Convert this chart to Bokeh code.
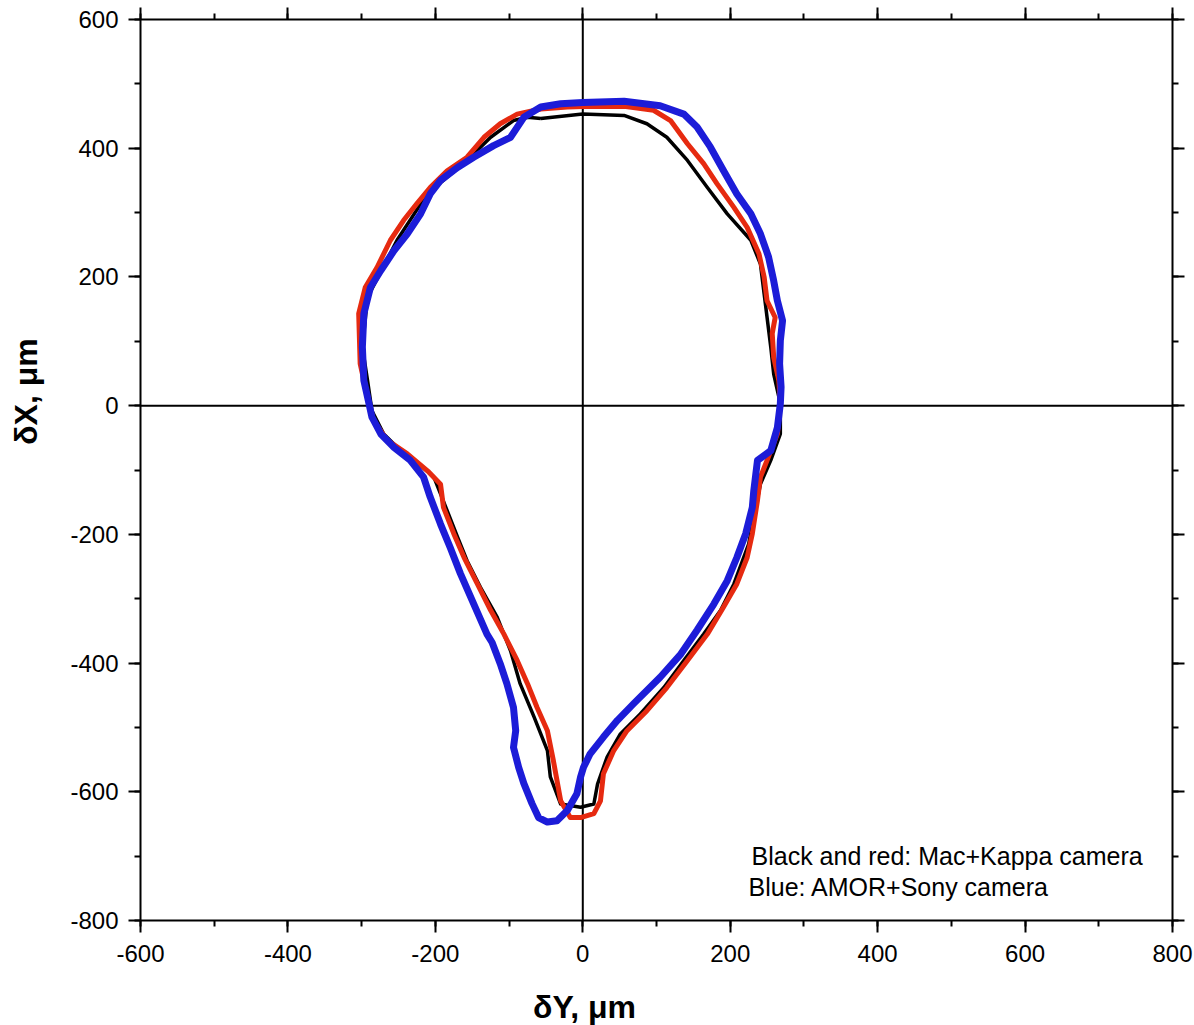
import math
from bokeh.plotting import figure
from bokeh.models import Range1d, LinearAxis, FixedTicker, Label, CustomLabelingPolicy
from bokeh.embed import file_html
from bokeh.resources import INLINE

# ---- data ----
blue_x = [0, 56, 105, 137, 155, 173, 191, 209, 228, 241, 252, 259, 264, 271, 268, 267, 269, 268, 264, 255,
          237, 232, 230, 221, 209, 196, 178, 155, 133, 105, 69, 47, 28, 10, 1, -3, -8, -21, -35, -48,
          -60, -69, -80, -87, -94, -91, -94, -103, -112, -123, -130, -148, -166, -180, -193, -207, -216, -234, -256, -274,
          -286, -290, -297, -299, -297, -288, -274, -256, -238, -220, -207, -193, -170, -148, -121, -98, -80, -57, -30]
blue_y = [471, 473, 466, 453, 433, 402, 365, 329, 298, 267, 231, 194, 163, 132, 101, 65, 29, 3, -34, -70,
          -85, -132, -158, -199, -236, -272, -308, -349, -386, -422, -463, -489, -515, -541, -562, -577, -603, -629, -645, -647,
          -640, -618, -587, -562, -531, -505, -469, -432, -401, -368, -355, -308, -261, -220, -184, -142, -111, -85, -65, -44,
          -18, 3, 39, 91, 143, 184, 210, 241, 267, 298, 329, 350, 370, 386, 404, 417, 448, 464, 469]

red_x = [0, 56, 96, 119, 142, 164, 182, 205, 223, 239, 246, 250, 261, 257, 259, 266, 268, 264, 250, 241,
         237, 230, 223, 209, 191, 169, 142, 114, 87, 60, 42, 28, 24, 15, -3, -17, -30, -40, -48, -62,
         -75, -89, -107, -125, -143, -161, -175, -189, -193, -209, -238, -265, -284, -290, -302, -304, -295, -279, -261, -243,
         -225, -207, -184, -157, -134, -112, -89, -57, -21]
red_y = [465, 465, 459, 443, 407, 376, 345, 308, 277, 236, 200, 163, 137, 112, 75, 39, 3, -44, -85, -111,
         -147, -199, -236, -277, -313, -355, -396, -438, -474, -505, -536, -572, -614, -634, -640, -640, -614, -551, -505, -469,
         -432, -396, -355, -318, -277, -236, -199, -158, -122, -103, -75, -54, -23, 3, 65, 143, 184, 215, 257, 288,
         314, 339, 365, 386, 417, 438, 453, 461, 464]

black_x = [-57, 0, 56, 87, 114, 142, 169, 196, 228, 241, 246, 255, 259, 268, 268, 255, 241, 232, 225, 205,
           187, 164, 137, 110, 78, 51, 33, 20, 15, -3, -30, -44, -48, -66, -85, -98, -116, -139, -157, -170,
           -184, -202, -225, -247, -270, -286, -292, -299, -292, -252, -211, -157, -125, -94, -75]
black_y = [446, 453, 451, 438, 417, 381, 339, 298, 257, 220, 174, 91, 49, 3, -44, -85, -122, -173, -215, -277,
           -318, -355, -396, -438, -479, -510, -546, -588, -619, -624, -619, -577, -536, -484, -432, -381, -329, -282, -241, -204,
           -163, -111, -88, -70, -44, -8, 39, 91, 168, 257, 329, 381, 417, 443, 448]

x_ticks = [-600, -400, -200, 0, 200, 400, 600, 800]
x_tick_labels = ["-600", "-400", "-200", "0", "200", "400", "600", "800"]
y_ticks = [-800, -600, -400, -200, 0, 200, 400, 600]
y_tick_labels = ["-800", "-600", "-400", "-200", "0", "200", "400", "600"]
x_minor = list(range(-600, 801, 100))
y_minor = list(range(-800, 601, 100))
X_MIN, X_MAX = -600, 800
Y_MIN, Y_MAX = -800, 600

x_title = "δY, μm"
y_title = "δX, μm"
note_lines = ["Black and red: Mac+Kappa camera", "Blue: AMOR+Sony camera"]

FONT = "Liberation Sans"

# ---- layout: the axis box sits at these pixel edges of a 1194x1025 canvas ----
W, H = 1194, 1025
BOX_L, BOX_R, BOX_T, BOX_B = 140, 1172, 19, 920
kx = (X_MAX - X_MIN) / (BOX_R - BOX_L)
ky = (Y_MAX - Y_MIN) / (BOX_B - BOX_T)
x_range = Range1d(X_MIN - BOX_L * kx, X_MAX + (W - BOX_R) * kx)
y_range = Range1d(Y_MIN - (H - BOX_B) * ky, Y_MAX + BOX_T * ky)


def px_to_x(px):
    return X_MIN + (px - BOX_L) * kx


def py_to_y(py):
    return Y_MAX - (py - BOX_T) * ky


p = figure(width=W, height=H, x_range=x_range, y_range=y_range,
           output_backend="svg", toolbar_location=None,
           min_border=0, min_border_left=0, min_border_right=0,
           min_border_top=0, min_border_bottom=0)
p.grid.visible = False
p.outline_line_color = None
p.background_fill_color = "white"
p.border_fill_color = "white"


def style_axis(ax, labels=True):
    ax.axis_line_width = 2
    ax.axis_line_color = "black"
    ax.major_tick_line_width = 2
    ax.minor_tick_line_width = 2
    ax.major_tick_out = 12
    ax.major_tick_in = 0
    ax.minor_tick_out = 6
    ax.minor_tick_in = 0
    ax.major_label_text_font = FONT
    ax.major_label_text_color = "black"
    if labels:
        ax.major_label_text_font_size = "24px"
    else:
        ax.major_label_text_font_size = "0px"
        ax.major_label_policy = CustomLabelingPolicy(
            code="for (const i of indices) { indices.unset(i) } return indices")
        ax.major_label_standoff = 0


xa = p.xaxis[0]
ya = p.yaxis[0]
xa.ticker = FixedTicker(ticks=x_ticks, minor_ticks=x_minor)
ya.ticker = FixedTicker(ticks=y_ticks, minor_ticks=y_minor)
xa.major_label_overrides = {t: s for t, s in zip(x_ticks, x_tick_labels)}
ya.major_label_overrides = {t: s for t, s in zip(y_ticks, y_tick_labels)}
style_axis(xa)
style_axis(ya)
xa.major_label_standoff = 12
ya.major_label_standoff = 10
xa.fixed_location = Y_MIN
xa.bounds = (X_MIN, X_MAX)
ya.fixed_location = X_MIN
ya.bounds = (Y_MIN, Y_MAX)

top = LinearAxis(ticker=FixedTicker(ticks=x_ticks, minor_ticks=x_minor),
                 fixed_location=Y_MAX, bounds=(X_MIN, X_MAX))
style_axis(top, labels=False)
p.add_layout(top, "above")
right = LinearAxis(ticker=FixedTicker(ticks=y_ticks, minor_ticks=y_minor),
                   fixed_location=X_MAX, bounds=(Y_MIN, Y_MAX))
style_axis(right, labels=False)
p.add_layout(right, "right")

# zero lines across the axis box
p.segment(x0=[X_MIN, 0], y0=[0, Y_MIN], x1=[X_MAX, 0], y1=[0, Y_MAX],
          line_color="black", line_width=2)

p.line(black_x + black_x[:1], black_y + black_y[:1], line_color="black", line_width=3.5, line_join="round")
p.line(red_x + red_x[:1], red_y + red_y[:1], line_color="#e62a10", line_width=5, line_join="round")
p.line(blue_x + blue_x[:1], blue_y + blue_y[:1], line_color="#1c1cd8", line_width=7, line_join="round")

p.add_layout(Label(x=px_to_x(751), y=py_to_y(855), text=note_lines[0], text_font=FONT, text_font_size="25px",
                   text_color="black", text_baseline="middle", text_align="left"))
p.add_layout(Label(x=px_to_x(748), y=py_to_y(886), text=note_lines[1], text_font=FONT, text_font_size="25px",
                   text_color="black", text_baseline="middle", text_align="left"))

# axis titles, centred on the zero lines as in the original
p.add_layout(Label(x=px_to_x(584), y=py_to_y(1006), text=x_title, text_font=FONT, text_font_size="32px",
                   text_font_style="bold", text_color="black",
                   text_baseline="middle", text_align="center"))
p.add_layout(Label(x=px_to_x(25), y=py_to_y(391), text=y_title, text_font=FONT, text_font_size="32px",
                   text_font_style="bold", text_color="black", angle=math.pi / 2,
                   text_baseline="middle", text_align="center"))

open("out.html", "w").write(file_html(p, INLINE))
